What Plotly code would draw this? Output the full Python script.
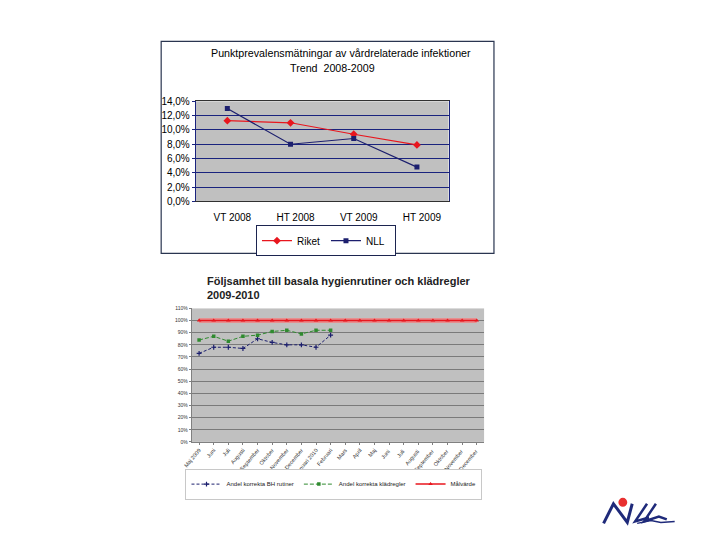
import plotly.graph_objects as go

W, H = 720, 540
OX, OY = 10, 8  # page body margin compensation
def px(x): return (x - OX) / W
def py(y): return 1 - (y - OY) / H

# ---- data: top chart ----
periods = ["VT 2008", "HT 2008", "VT 2009", "HT 2009"]
riket = [0.113, 0.110, 0.094, 0.079]
nll = [0.130, 0.080, 0.088, 0.048]

# ---- data: bottom chart ----
months = ["Maj 2009", "Juni", "Juli", "Augusti", "September", "Oktober", "November",
          "December", "Januari 2010", "Februari", "Mars", "April", "Maj", "Juni ",
          "Juli ", "Augusti ", "September ", "Oktober ", "November ", "December "]
bh_rutiner = [0.73, 0.78, 0.78, 0.77, 0.85, 0.82, 0.80, 0.80, 0.78, 0.88]
kladregler = [0.84, 0.87, 0.83, 0.87, 0.88, 0.91, 0.92, 0.89, 0.92, 0.92]
malvarde = [1.0] * 20

FONT = "Liberation Sans, Arial, sans-serif"
NAVY_GRID = "#1a237e"
fig = go.Figure()

# top chart traces
fig.add_trace(go.Scatter(x=periods, y=riket, name="Riket", mode="lines+markers",
                         line=dict(color="#e8161e", width=1.2),
                         marker=dict(symbol="diamond", size=6, color="#e8161e"),
                         xaxis="x", yaxis="y", legend="legend"))
fig.add_trace(go.Scatter(x=periods, y=nll, name="NLL", mode="lines+markers",
                         line=dict(color="#1c1f6e", width=1.2),
                         marker=dict(symbol="square", size=5, color="#1c1f6e"),
                         xaxis="x", yaxis="y", legend="legend"))

# bottom chart traces
fig.add_trace(go.Scatter(x=months[:len(bh_rutiner)], y=bh_rutiner, name="Andel korrekta BH rutiner",
                         mode="lines+markers", line=dict(color="#1c1f6e", width=1, dash="3px,2px"),
                         marker=dict(symbol="cross-thin", size=3.5, color="#1c1f6e",
                                     line=dict(color="#1c1f6e", width=1.2)),
                         xaxis="x2", yaxis="y2", legend="legend2"))
fig.add_trace(go.Scatter(x=months[:len(kladregler)], y=kladregler, name="Andel korrekta klädregler",
                         mode="lines+markers", line=dict(color="#2f8a2f", width=1, dash="4px,2px"),
                         marker=dict(symbol="square", size=3.5, color="#2f8a2f"),
                         xaxis="x2", yaxis="y2", legend="legend2"))
fig.add_trace(go.Scatter(x=months, y=malvarde, mode="lines", showlegend=False,
                         line=dict(color="rgba(255,110,110,0.6)", width=5),
                         hoverinfo="skip", xaxis="x2", yaxis="y2"))
fig.add_trace(go.Scatter(x=months, y=malvarde, name="Målvärde", mode="lines+markers",
                         line=dict(color="#e8161e", width=1.5),
                         marker=dict(symbol="triangle-up", size=4, color="#e8161e"),
                         xaxis="x2", yaxis="y2", legend="legend2"))

# frame of top chart + logo
shapes = [dict(type="rect", xref="paper", yref="paper", x0=px(156), x1=px(493),
               y0=py(253), y1=py(37), line=dict(color="#2a3550", width=1.2), layer="below")]

def path(points):
    return "M " + " L ".join(f"{px(a):.5f},{py(b):.5f}" for a, b in points)

navy = "#1f2a7a"
shapes.append(dict(type="path", xref="paper", yref="paper",
                   path=path([(604, 528), (614, 508), (628, 527), (633, 508)]),
                   line=dict(color=navy, width=3)))
shapes.append(dict(type="path", xref="paper", yref="paper",
                   path=path([(648, 508), (636, 526), (650, 522)]),
                   line=dict(color=navy, width=2.5)))
shapes.append(dict(type="path", xref="paper", yref="paper",
                   path=path([(657, 508), (645, 526), (660, 521), (668, 524)]),
                   line=dict(color=navy, width=2.5)))
shapes.append(dict(type="path", xref="paper", yref="paper",
                   path=path([(638, 528), (652, 525), (662, 527), (676, 526)]),
                   line=dict(color=navy, width=1.5)))
shapes.append(dict(type="circle", xref="paper", yref="paper",
                   x0=px(619), x1=px(628), y0=py(511), y1=py(502),
                   fillcolor="#e83030", line=dict(width=0)))

annotations = [
    dict(text="Punktprevalensmätningar av vårdrelaterade infektioner", x=px(338), y=py(49),
         xref="paper", yref="paper", showarrow=False, xanchor="center", yanchor="middle",
         font=dict(family=FONT, size=10.7, color="black")),
    dict(text="Trend  2008-2009", x=px(329), y=py(64),
         xref="paper", yref="paper", showarrow=False, xanchor="center", yanchor="middle",
         font=dict(family=FONT, size=10.7, color="black")),
    dict(text="<b>Följsamhet till basala hygienrutiner och klädregler<br>2009-2010</b>",
         x=px(200), y=py(288), xref="paper", yref="paper", showarrow=False,
         xanchor="left", yanchor="middle", align="left",
         font=dict(family=FONT, size=11, color="#222222")),
]

fig.update_layout(
    width=W, height=H, margin=dict(l=0, r=0, t=0, b=0),
    paper_bgcolor="white", separators=", ",
    font=dict(family=FONT, color="black"),
    shapes=shapes, annotations=annotations,
    xaxis=dict(domain=[px(191), px(447)], anchor="y", type="category", range=[-0.5, 3.5],
               showline=True, linecolor="#303030", linewidth=1, mirror=True,
               ticks="", showgrid=False, ticklabelstandoff=7, ticklabelshift=5,
               tickfont=dict(size=10, color="black")),
    yaxis=dict(domain=[py(200), py(98)], anchor="x", range=[0, 0.14], dtick=0.02,
               tickformat=".1%", showline=True, linecolor=NAVY_GRID, mirror=True,
               ticks="outside", ticklen=3, tickcolor=NAVY_GRID, ticklabelstandoff=0,
               gridcolor=NAVY_GRID, gridwidth=1, zeroline=False,
               tickfont=dict(size=10, color="black")),
    xaxis2=dict(domain=[px(187), px(483)], anchor="y2", type="category", range=[-0.5, 19.5],
                showline=True, linecolor="#808080", ticks="outside", ticklen=2,
                tickcolor="#808080", showgrid=False, tickangle=-50,
                tickfont=dict(size=5.5, color="#333333")),
    yaxis2=dict(domain=[py(445), py(309)], anchor="x2", range=[0, 1.1], dtick=0.1,
                tickformat=".0%", showline=True, linecolor="#808080", ticks="outside",
                ticklen=2, tickcolor="#808080", gridcolor="#7a7a7a", gridwidth=1,
                zeroline=False, tickfont=dict(size=5, color="#333333")),
    plot_bgcolor="#c0c0c0",
    legend=dict(orientation="h", x=px(252), y=py(240), xanchor="left", yanchor="middle",
                bgcolor="white", bordercolor="#1c2450", borderwidth=1,
                font=dict(size=10, color="black"), itemwidth=30, entrywidth=24,
                tracegroupgap=0),
    legend2=dict(orientation="h", x=px(331), y=py(488), xanchor="center", yanchor="middle",
                 bgcolor="white", bordercolor="#c8c8c8", borderwidth=1,
                 font=dict(size=6, color="#222222"), itemwidth=30),
)

fig.write_html("out.html")
